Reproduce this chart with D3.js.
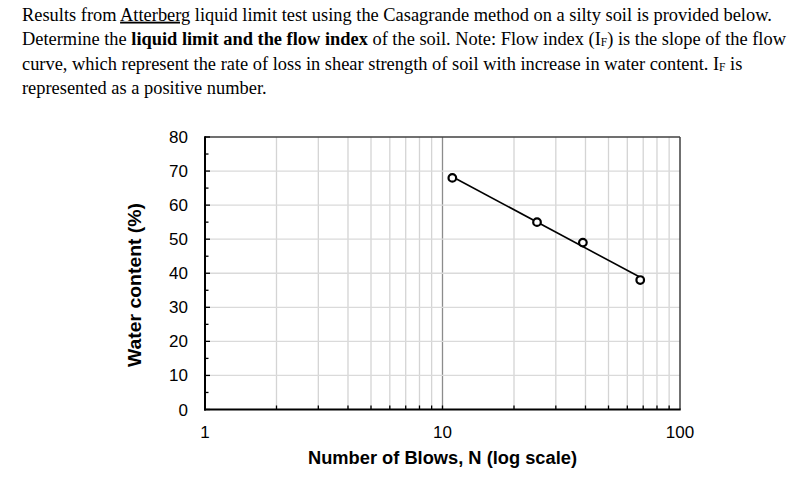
<!DOCTYPE html>
<html><head><meta charset="utf-8">
<script src="https://cdn.jsdelivr.net/npm/d3@7"></script>
<style>body{margin:0;background:#fff}svg{display:block}</style>
</head><body>
<svg id="c" width="797" height="482"></svg>
<script>
const blows = [11, 25, 39, 68];
const water = [68, 55, 49, 38];
const yTicks = [0, 10, 20, 30, 40, 50, 60, 70, 80];
const xTickLabels = [1, 10, 100];
const xTitle = "Number of Blows, N (log scale)";
const yTitle = "Water content (%)";

const svg = d3.select("#c");
const m = {l: 205, r: 680, t: 137, b: 409.5};
const x = d3.scaleLog().domain([1, 100]).range([m.l, m.r]);
const y = d3.scaleLinear().domain([0, 80]).range([m.b, m.t]);

// paragraph text
const para = svg.append("g").attr("font-family", "'Liberation Serif','Times New Roman',serif")
  .attr("font-size", 18.4).attr("fill", "#000");
const lines = [
  [["Results from ", ""], ["Atterberg", "u"], [" liquid limit test using the Casagrande method on a silty soil is provided below.", ""]],
  [["Determine the ", ""], ["liquid limit and the flow index", "b"], [" of the soil. Note: Flow index (I", ""], ["F", "sub"], [") is the slope of the flow", ""]],
  [["curve, which represent the rate of loss in shear strength of soil with increase in water content. I", ""], ["F", "sub"], [" is", ""]],
  [["represented as a positive number.", ""]]
];
lines.forEach((ln, i) => {
  const t = para.append("text").attr("x", 22).attr("y", 20.7 + i * 24.4);
  let prevSub = false;
  ln.forEach(([s, k]) => {
    const ts = t.append("tspan").text(s);
    if (k === "b") ts.attr("font-weight", "bold");
    if (k === "u") ts.attr("text-decoration", "underline");
    if (k === "sub") { ts.attr("font-size", 11.5).attr("dy", 1); prevSub = true; }
    else if (prevSub) { ts.attr("dy", -1); prevSub = false; }
  });
});

// gridlines
const minor = [];
for (let d = 1; d < 100; d *= 10) for (let k = 2; k <= 9; k++) minor.push(d * k);
const g = svg.append("g");
g.selectAll(".vg").data(minor).join("line")
  .attr("x1", d => x(d)).attr("x2", d => x(d)).attr("y1", m.t).attr("y2", m.b)
  .attr("stroke", "#d4d4d4").attr("stroke-width", 1.3);
g.append("line").attr("x1", x(10)).attr("x2", x(10)).attr("y1", m.t).attr("y2", m.b)
  .attr("stroke", "#8c8c8c").attr("stroke-width", 1.3);
g.selectAll(".hg").data(yTicks.filter(v => v > 0 && v < 80)).join("line")
  .attr("x1", m.l).attr("x2", m.r).attr("y1", d => y(d)).attr("y2", d => y(d))
  .attr("stroke", "#dadada").attr("stroke-width", 1.3);

// frame top/right
svg.append("line").attr("x1", m.l).attr("x2", m.r).attr("y1", m.t).attr("y2", m.t).attr("stroke", "#404040").attr("stroke-width", 1.5);
svg.append("line").attr("x1", m.r).attr("x2", m.r).attr("y1", m.t).attr("y2", m.b).attr("stroke", "#404040").attr("stroke-width", 1.5);

// y axis ticks inward
const yMinor = d3.range(5, 80, 10);
svg.selectAll(".ytm").data(yTicks).join("line")
  .attr("x1", m.l).attr("x2", m.l + 5).attr("y1", d => y(d)).attr("y2", d => y(d)).attr("stroke", "#000").attr("stroke-width", 1.3);
svg.selectAll(".ytn").data(yMinor).join("line")
  .attr("x1", m.l).attr("x2", m.l + 3.5).attr("y1", d => y(d)).attr("y2", d => y(d)).attr("stroke", "#000").attr("stroke-width", 1.3);
// x axis ticks inward
svg.selectAll(".xtm").data(minor.concat([10])).join("line")
  .attr("x1", d => x(d)).attr("x2", d => x(d)).attr("y1", m.b).attr("y2", m.b - 4).attr("stroke", "#000").attr("stroke-width", 1.3);

// axis lines
svg.append("line").attr("x1", m.l).attr("x2", m.l).attr("y1", m.t - 0.7).attr("y2", m.b + 1).attr("stroke", "#000").attr("stroke-width", 2);
svg.append("line").attr("x1", m.l - 1).attr("x2", m.r + 0.7).attr("y1", m.b).attr("y2", m.b).attr("stroke", "#000").attr("stroke-width", 2);

// tick labels
const lab = svg.append("g").attr("font-family", "'Liberation Sans',Arial,sans-serif").attr("font-size", 17).attr("fill", "#000");
lab.selectAll(".yl").data(yTicks).join("text")
  .attr("x", 188).attr("y", d => y(d) + 6).attr("text-anchor", "end").text(d => d);
lab.selectAll(".xl").data(xTickLabels).join("text")
  .attr("x", d => x(d)).attr("y", 437.5).attr("text-anchor", "middle").text(d => d);

// titles
lab.append("text").attr("x", 442.5).attr("y", 464).attr("text-anchor", "middle")
  .attr("font-weight", "bold").attr("font-size", 17.5).attr("textLength", 269).attr("lengthAdjust", "spacingAndGlyphs").text(xTitle);
lab.append("text").attr("transform", "translate(141,285) rotate(-90)").attr("text-anchor", "middle")
  .attr("font-weight", "bold").attr("font-size", 17.5).attr("textLength", 164).attr("lengthAdjust", "spacingAndGlyphs").text(yTitle);

// trendline (least squares in log N)
const lx = blows.map(Math.log10);
const mx = d3.mean(lx), my = d3.mean(water);
const slope = d3.sum(lx.map((v, i) => (v - mx) * (water[i] - my))) / d3.sum(lx.map(v => (v - mx) ** 2));
const fit = n => my + slope * (Math.log10(n) - mx);
const n0 = d3.min(blows), n1 = d3.max(blows);
svg.append("line").attr("x1", x(n0)).attr("y1", y(fit(n0))).attr("x2", x(n1)).attr("y2", y(fit(n1)))
  .attr("stroke", "#000").attr("stroke-width", 1.6);

// points
svg.selectAll(".pt").data(blows).join("circle")
  .attr("cx", d => x(d)).attr("cy", (d, i) => y(water[i])).attr("r", 3.8)
  .attr("fill", "#fff").attr("stroke", "#000").attr("stroke-width", 2.2);
</script>
</body></html>
